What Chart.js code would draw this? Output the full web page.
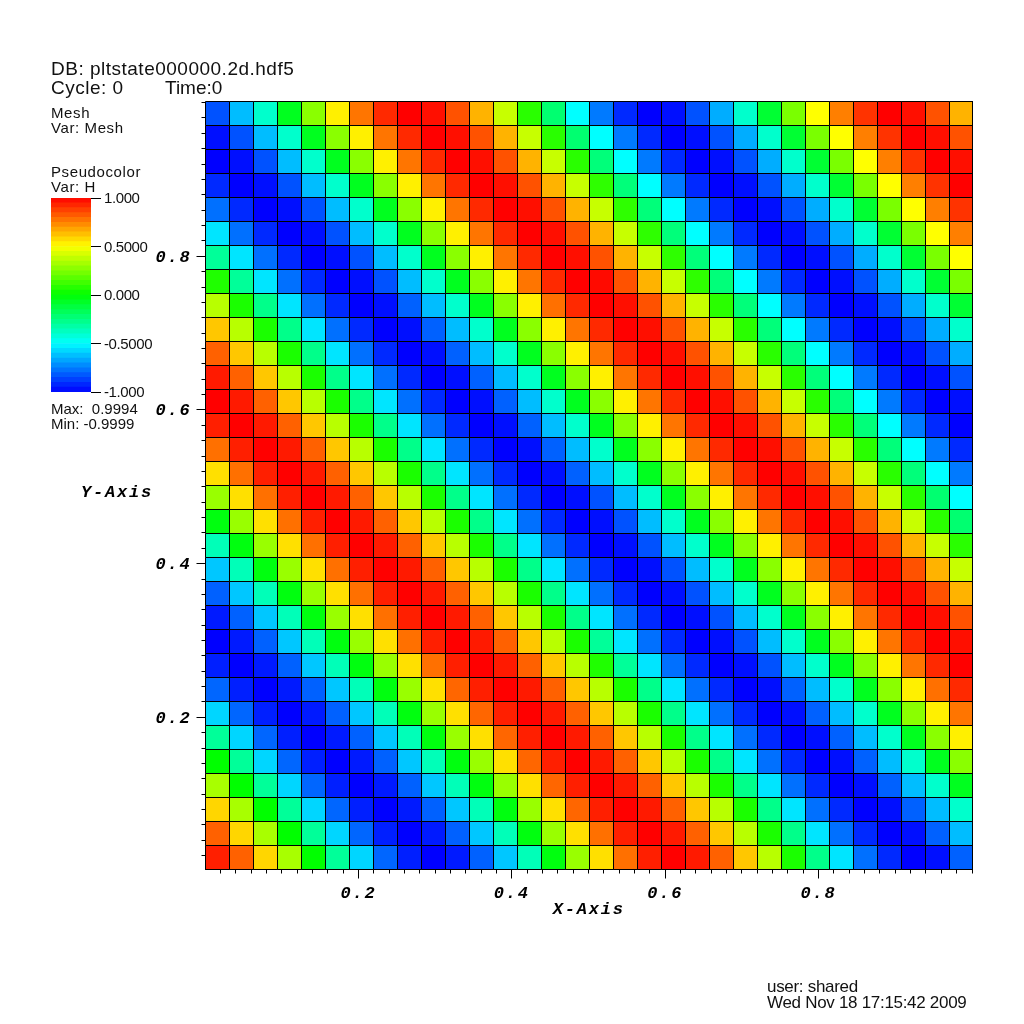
<!DOCTYPE html>
<html>
<head>
<meta charset="utf-8">
<title>Pseudocolor H</title>
<script src="https://cdn.jsdelivr.net/npm/chart.js@4"></script>
<style>
  html, body { margin: 0; padding: 0; background: #fff; }
  #page { position: relative; width: 1024px; height: 1024px; overflow: hidden; }
  canvas { position: absolute; }
  .note { position: absolute; left: 51px; color: #111; white-space: pre; font-family: "Liberation Sans", sans-serif; line-height: 1; transform: translateY(-50%); }
  .big { font-size: 19px; letter-spacing: 0.5px; }
  .small { font-size: 15px; letter-spacing: 0.6px; }
  .stat { font-size: 15px; }
  .stamp { left: 767px; font-size: 17px; letter-spacing: -0.3px; }
  .axisName { position: absolute; color: #000; font: italic bold 17px "Liberation Mono", monospace; letter-spacing: 1.8px; white-space: pre; line-height: 1; transform: translateY(-50%); }
</style>
</head>
<body>
<div id="page">
  <canvas id="plot" width="1024" height="1024" style="left:0;top:0"></canvas>
  <canvas id="colorbar" width="210" height="230" style="left:0;top:180px"></canvas>
  <div class="note big" style="top:68px">DB: pltstate000000.2d.hdf5</div>
  <div class="note big" style="top:87px">Cycle: 0</div>
  <div class="note big" style="top:87px;left:165px;letter-spacing:0">Time:0</div>
  <div class="note small" style="top:112px">Mesh</div>
  <div class="note small" style="top:127px">Var: Mesh</div>
  <div class="note small" style="top:171px">Pseudocolor</div>
  <div class="note small" style="top:186px">Var: H</div>
  <div class="note stat" style="top:408px">Max:  0.9994</div>
  <div class="note stat" style="top:423px">Min: -0.9999</div>
  <div class="axisName" style="left:81px;top:492px">Y-Axis</div>
  <div class="note stamp" style="top:986px">user: shared</div>
  <div class="note stamp" style="top:1002px">Wed Nov 18 17:15:42 2009</div>
</div>
<script>
const GRID_SIZE = 32
const CELL_RADIUS = 12 / Math.SQRT1_2 // a 'rect' point of this radius is 24px wide

// H per cell, top row first
const hValues = [
  [-.84,-.63,-.4,-.06,.27,.53,.77,.92,1,.97,.84,.65,.39,.08,-.22,-.5,-.76,-.92,-1,-.97,-.84,-.66,-.4,-.1,.24,.5,.75,.9,1,.97,.84,.65],
  [-.97,-.84,-.63,-.4,-.06,.27,.53,.77,.92,1,.97,.84,.65,.39,.08,-.22,-.5,-.76,-.92,-1,-.97,-.84,-.66,-.4,-.1,.24,.5,.75,.9,1,.97,.84],
  [-1,-.97,-.84,-.63,-.4,-.06,.27,.53,.77,.92,1,.97,.84,.65,.39,.08,-.24,-.5,-.76,-.92,-1,-.97,-.84,-.66,-.4,-.1,.24,.5,.75,.9,1,.97],
  [-.92,-1,-.97,-.84,-.63,-.4,-.06,.27,.53,.77,.92,1,.97,.84,.65,.39,.09,-.24,-.5,-.76,-.92,-1,-.97,-.84,-.66,-.4,-.1,.24,.5,.75,.9,1],
  [-.78,-.92,-1,-.97,-.84,-.63,-.4,-.06,.27,.53,.77,.92,1,.97,.84,.65,.39,.09,-.24,-.5,-.76,-.92,-1,-.97,-.84,-.66,-.4,-.1,.24,.5,.75,.9],
  [-.55,-.78,-.92,-1,-.97,-.84,-.63,-.4,-.06,.27,.53,.77,.92,1,.97,.84,.65,.39,.09,-.24,-.5,-.76,-.92,-1,-.97,-.84,-.66,-.4,-.1,.24,.5,.75],
  [-.3,-.55,-.78,-.92,-1,-.97,-.84,-.63,-.4,-.06,.27,.53,.77,.92,1,.97,.84,.65,.39,.09,-.24,-.5,-.76,-.92,-1,-.97,-.84,-.66,-.4,-.1,.24,.5],
  [.06,-.3,-.55,-.78,-.92,-1,-.97,-.84,-.63,-.4,-.06,.27,.53,.77,.92,1,.98,.84,.65,.39,.09,-.24,-.5,-.76,-.92,-1,-.97,-.84,-.66,-.4,-.1,.24],
  [.36,.05,-.27,-.55,-.78,-.92,-1,-.97,-.81,-.63,-.4,-.06,.27,.53,.78,.92,1,.97,.84,.65,.39,.08,-.24,-.5,-.76,-.92,-1,-.97,-.84,-.66,-.4,-.1],
  [.61,.36,.05,-.27,-.55,-.78,-.92,-1,-.97,-.81,-.63,-.4,-.06,.27,.53,.77,.92,1,.97,.84,.65,.39,.08,-.24,-.5,-.76,-.92,-1,-.97,-.84,-.66,-.4],
  [.81,.61,.36,.05,-.27,-.55,-.78,-.92,-1,-.97,-.81,-.63,-.4,-.06,.27,.53,.77,.92,1,.97,.84,.65,.39,.08,-.24,-.5,-.76,-.92,-1,-.97,-.84,-.66],
  [.95,.81,.61,.36,.05,-.27,-.55,-.78,-.92,-1,-.97,-.81,-.63,-.4,-.06,.27,.53,.77,.92,1,.97,.84,.65,.39,.08,-.24,-.5,-.76,-.92,-1,-.97,-.84],
  [1,.95,.81,.61,.36,.05,-.27,-.55,-.78,-.92,-1,-.97,-.81,-.63,-.4,-.06,.27,.53,.77,.92,1,.97,.84,.65,.39,.08,-.24,-.5,-.76,-.92,-1,-.97],
  [.94,1,.95,.81,.61,.36,.05,-.27,-.55,-.78,-.92,-1,-.97,-.81,-.63,-.4,-.06,.27,.53,.77,.92,1,.97,.84,.65,.39,.08,-.24,-.5,-.76,-.92,-1],
  [.78,.94,1,.95,.81,.61,.36,.05,-.27,-.55,-.78,-.92,-1,-.97,-.81,-.63,-.4,-.06,.27,.53,.77,.92,1,.97,.84,.65,.39,.08,-.24,-.5,-.76,-.92],
  [.56,.78,.94,1,.95,.81,.61,.36,.05,-.27,-.55,-.78,-.92,-1,-.97,-.81,-.63,-.4,-.06,.27,.53,.77,.92,1,.97,.84,.65,.39,.08,-.24,-.5,-.76],
  [.3,.56,.78,.94,1,.95,.81,.61,.36,.05,-.27,-.55,-.78,-.92,-1,-.97,-.84,-.63,-.4,-.06,.27,.53,.77,.92,1,.97,.84,.65,.39,.08,-.22,-.5],
  [-.03,.3,.56,.78,.94,1,.95,.81,.61,.36,.05,-.27,-.55,-.78,-.92,-1,-.97,-.84,-.63,-.4,-.06,.27,.53,.77,.92,1,.97,.84,.65,.39,.08,-.22],
  [-.36,-.03,.3,.56,.78,.94,1,.95,.81,.61,.36,.05,-.27,-.55,-.78,-.92,-1,-.97,-.84,-.63,-.4,-.06,.27,.53,.77,.92,1,.97,.84,.65,.39,.08],
  [-.61,-.36,-.03,.3,.56,.78,.94,1,.95,.81,.61,.36,.05,-.27,-.55,-.78,-.92,-1,-.97,-.84,-.63,-.4,-.06,.27,.53,.77,.92,1,.97,.84,.65,.39],
  [-.81,-.61,-.36,-.03,.3,.56,.78,.94,1,.95,.81,.61,.36,.05,-.27,-.55,-.78,-.92,-1,-.97,-.84,-.63,-.4,-.06,.27,.53,.77,.92,1,.97,.84,.65],
  [-.95,-.81,-.61,-.36,-.03,.3,.56,.78,.94,1,.95,.81,.61,.36,.05,-.27,-.55,-.78,-.92,-1,-.97,-.84,-.63,-.4,-.06,.27,.53,.77,.92,1,.97,.84],
  [-1,-.95,-.81,-.61,-.36,-.03,.3,.56,.78,.94,1,.95,.81,.61,.36,.05,-.3,-.55,-.78,-.92,-1,-.97,-.84,-.63,-.4,-.06,.27,.53,.77,.92,1,.97],
  [-.94,-1,-.95,-.81,-.61,-.36,-.03,.3,.56,.78,.94,1,.95,.81,.61,.36,.06,-.3,-.55,-.78,-.92,-1,-.97,-.84,-.63,-.4,-.06,.27,.53,.77,.92,1],
  [-.8,-.94,-1,-.95,-.81,-.61,-.36,-.03,.3,.56,.8,.94,1,.95,.81,.61,.36,.05,-.27,-.55,-.78,-.92,-1,-.97,-.81,-.63,-.4,-.06,.27,.53,.78,.92],
  [-.58,-.8,-.94,-1,-.95,-.81,-.61,-.36,-.03,.3,.56,.8,.94,1,.95,.81,.61,.36,.05,-.27,-.55,-.78,-.92,-1,-.97,-.81,-.63,-.4,-.06,.27,.53,.77],
  [-.3,-.58,-.8,-.94,-1,-.95,-.81,-.61,-.36,-.03,.3,.56,.8,.94,1,.95,.81,.61,.36,.05,-.27,-.55,-.78,-.92,-1,-.97,-.81,-.63,-.4,-.06,.27,.53],
  [0,-.3,-.58,-.8,-.94,-1,-.95,-.81,-.61,-.36,-.03,.3,.56,.8,.94,1,.95,.81,.61,.36,.05,-.27,-.55,-.78,-.92,-1,-.97,-.81,-.63,-.4,-.06,.27],
  [.33,0,-.3,-.58,-.8,-.94,-1,-.95,-.81,-.61,-.36,-.03,.3,.56,.8,.94,1,.95,.81,.61,.36,.05,-.27,-.55,-.78,-.92,-1,-.97,-.81,-.63,-.4,-.06],
  [.58,.33,0,-.3,-.58,-.8,-.94,-1,-.95,-.81,-.61,-.36,-.03,.3,.56,.8,.94,1,.95,.81,.61,.36,.05,-.27,-.55,-.78,-.92,-1,-.97,-.81,-.63,-.4],
  [.81,.58,.33,0,-.3,-.58,-.8,-.94,-1,-.95,-.81,-.61,-.36,-.03,.3,.56,.78,.94,1,.95,.81,.61,.36,.05,-.27,-.55,-.78,-.92,-1,-.97,-.81,-.63],
  [.94,.81,.58,.33,0,-.3,-.58,-.8,-.94,-1,-.95,-.81,-.61,-.36,-.03,.3,.56,.78,.94,1,.95,.81,.61,.36,.05,-.27,-.55,-.78,-.92,-1,-.97,-.81]
]

const majorTicks = [0.2, 0.4, 0.6, 0.8]
const minorTicks = [0.02, 0.04, 0.06, 0.08, 0.1, 0.12, 0.14, 0.16, 0.18, 0.2, 0.22, 0.24, 0.26, 0.28, 0.3, 0.32, 0.34, 0.36, 0.38, 0.4, 0.42, 0.44, 0.46, 0.48, 0.5, 0.52, 0.54, 0.56, 0.58, 0.6, 0.62, 0.64, 0.66, 0.68, 0.7, 0.72, 0.74, 0.76, 0.78, 0.8, 0.82, 0.84, 0.86, 0.88, 0.9, 0.92, 0.94, 0.96, 0.98, 1]

// colour bar
const barLevels = [0.975, 0.925, 0.875, 0.825, 0.775, 0.725, 0.675, 0.625, 0.575, 0.525, 0.475, 0.425, 0.375, 0.325, 0.275, 0.225, 0.175, 0.125, 0.075, 0.025, -0.025, -0.075, -0.125, -0.175, -0.225, -0.275, -0.325, -0.375, -0.425, -0.475, -0.525, -0.575, -0.625, -0.675, -0.725, -0.775, -0.825, -0.875, -0.925, -0.975]
const barTickValues = [-1, -0.5, 0, 0.5, 1]
const barTickLabels = ['-1.000', '-0.5000', '0.000', '0.5000', '1.000']

// blue, cyan, green, yellow, red
function hColor (v) {
  const t = (Math.max(-1, Math.min(1, v)) + 1) * 2
  const c = Math.round((t % 1) * 255)
  if (t < 1) return `rgb(0,${c},255)`
  if (t < 2) return `rgb(0,255,${255 - c})`
  if (t < 3) return `rgb(${c},255,0)`
  if (t < 4) return `rgb(255,${255 - c},0)`
  return 'rgb(255,0,0)'
}

const cells = []
hValues.forEach((row, r) => {
  row.forEach((h, c) => {
    cells.push({ x: (c + 0.5) / GRID_SIZE, y: 1 - (r + 0.5) / GRID_SIZE, h })
  })
})

const tickFont = { family: '"Liberation Mono", monospace', size: 17, style: 'italic', weight: 'bold' }

function spacedText (spacing) {
  return {
    id: 'spacedText',
    beforeDraw (chart) {
      chart.ctx.letterSpacing = spacing
    }
  }
}

function useTicks (list) {
  return (scale) => {
    scale.ticks = list.map((value) => ({ value }))
  }
}

document.addEventListener('DOMContentLoaded', () => {
  new Chart(document.getElementById('plot'), {
    type: 'scatter',
    data: {
      datasets: [{
        data: cells,
        xAxisID: 'xCell',
        yAxisID: 'yCell',
        clip: { left: 1, top: 1, right: 0, bottom: 1 },
        pointStyle: 'rect',
        pointRadius: CELL_RADIUS,
        pointBackgroundColor: (ctx) => hColor(ctx.raw.h),
        pointBorderColor: '#000',
        pointBorderWidth: 1
      }]
    },
    plugins: [spacedText('1.8px')],
    options: {
      responsive: false,
      animation: false,
      events: [],
      layout: { padding: { left: 0, right: 52, top: 101.5, bottom: 104.5 } },
      plugins: { legend: { display: false }, tooltip: { enabled: false } },
      scales: {
        // cells: 24px pitch, the plot's right edge cuts the last column one pixel short
        xCell: { axis: 'x', type: 'linear', display: false, min: 0, max: 766.5 / 768 },
        yCell: { axis: 'y', type: 'linear', display: false, min: 0, max: 1 },
        xMinor: {
          axis: 'x',
          position: 'bottom',
          type: 'linear',
          min: 0.00065,
          max: 1,
          weight: 0,
          afterBuildTicks: useTicks(minorTicks),
          afterFit: (s) => { s.height = 0 },
          ticks: { display: false, autoSkip: false },
          border: { display: false },
          grid: { drawOnChartArea: false, tickLength: 4, tickColor: '#000' }
        },
        x: {
          position: 'bottom',
          type: 'linear',
          min: 0.00065,
          max: 1,
          weight: 1,
          afterBuildTicks: useTicks(majorTicks),
          afterFit: (s) => { s.height = 50 },
          ticks: { autoSkip: false, maxRotation: 0, padding: 5, color: '#000', font: tickFont, callback: (v) => String(v) },
          border: { display: true, color: '#000', width: 1 },
          grid: { drawOnChartArea: false, tickLength: 9, tickColor: '#000' },
          title: { display: true, text: 'X-Axis', color: '#000', font: tickFont, padding: 0 }
        },
        yMinor: {
          axis: 'y',
          position: 'left',
          type: 'linear',
          min: 0.00195,
          max: 1.00143,
          weight: 0,
          afterBuildTicks: useTicks(minorTicks),
          afterFit: (s) => { s.width = 0 },
          ticks: { display: false, autoSkip: false },
          border: { display: false },
          grid: { drawOnChartArea: false, tickLength: 4, tickColor: '#000' }
        },
        y: {
          position: 'left',
          type: 'linear',
          min: 0.00195,
          max: 1.00143,
          weight: 1,
          afterBuildTicks: useTicks(majorTicks),
          afterFit: (s) => { s.width = 205.5 },
          ticks: { autoSkip: false, padding: 5, labelOffset: 1, color: '#000', font: tickFont, callback: (v) => String(v) },
          border: { display: false },
          grid: { drawOnChartArea: false, tickLength: 9, tickColor: '#000' }
        },
        yEdge: {
          axis: 'y',
          position: 'right',
          type: 'linear',
          min: 0,
          max: 1,
          z: 1,
          afterFit: (s) => { s.width = 0 },
          ticks: { display: false },
          border: { display: true, color: '#000', width: 1 },
          grid: { drawOnChartArea: false, drawTicks: false }
        }
      }
    }
  })

  new Chart(document.getElementById('colorbar'), {
    type: 'bar',
    data: {
      labels: barLevels,
      datasets: [{
        data: barLevels.map(() => 1),
        xAxisID: 'xBand',
        yAxisID: 'yBand',
        backgroundColor: barLevels.map(hColor),
        borderWidth: 0,
        barPercentage: 1,
        categoryPercentage: 1
      }]
    },
    plugins: [spacedText('-0.4px')],
    options: {
      indexAxis: 'y',
      responsive: false,
      animation: false,
      events: [],
      layout: { padding: { left: 51, right: 0, top: 18, bottom: 18 } },
      plugins: { legend: { display: false }, tooltip: { enabled: false } },
      scales: {
        xBand: { axis: 'x', type: 'linear', display: false, min: 0, max: 1 },
        yBand: { axis: 'y', type: 'category', display: false },
        yValue: {
          axis: 'y',
          position: 'right',
          type: 'linear',
          min: -1,
          max: 1,
          offset: false,
          afterBuildTicks: useTicks(barTickValues),
          afterFit: (s) => { s.width = 119 },
          ticks: {
            autoSkip: false,
            padding: 3,
            labelOffset: 1,
            color: '#111',
            font: { family: '"Liberation Sans", sans-serif', size: 15 },
            callback: (v) => barTickLabels[barTickValues.indexOf(v)]
          },
          border: { display: false },
          grid: { offset: false, drawOnChartArea: false, tickLength: 10, tickColor: '#000' }
        }
      }
    }
  })
})
</script>
</body>
</html>
